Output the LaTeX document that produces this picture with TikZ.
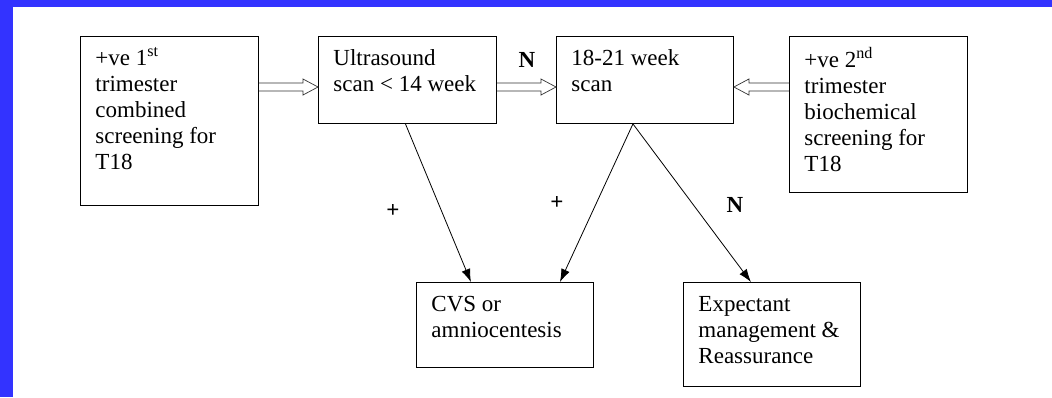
\documentclass[tikz,border=0pt]{standalone}
\usepackage{fontspec}
\setmainfont{Liberation Serif}
\usetikzlibrary{arrows.meta,calc}

\definecolor{frameblue}{RGB}{51,51,255}

% text in a box: fixed size, top left
\newcommand{\boxtext}[3]{\parbox[c][#2][t]{#1}{\raggedright\leftskip=15pt\vspace*{11pt}\strut #3}}

\tikzset{
  box/.style={draw, line width=0.9pt, inner sep=0pt, anchor=north west,
    font=\fontsize{23}{26}\selectfont},
  arr/.style={-{Latex[length=13pt,width=9pt]}, line width=0.8pt},
  lbl/.style={font=\fontsize{23}{26}\selectfont\bfseries, inner sep=0pt},
  hollow/.style={line width=0.7pt, draw=black!80, to path={
      let \p1=(\tikztostart), \p2=(\tikztotarget), \n1={ifthenelse(\x2>\x1,1,-1)} in
      (\x1,\y1+4pt) -- (\x2-\n1*15pt,\y1+4pt) -- (\x2-\n1*15pt,\y1+8pt) -- (\x2,\y1)
      -- (\x2-\n1*15pt,\y1-8pt) -- (\x2-\n1*15pt,\y1-4pt) -- (\x1,\y1-4pt)}}
}

\begin{document}
\begin{tikzpicture}[x=1pt,y=-1pt]

\useasboundingbox (0,0) rectangle (1052,397);
\fill [frameblue] (0,0) rectangle (1052,397);
\fill [white] (13,7) rectangle (1052,397);

% top row
\node [box] (first) at (80,36) {\boxtext{178pt}{169pt}{+ve 1\textsuperscript{st}\\ trimester\\ combined\\ screening for\\ T18}};
\node [box] (early) at (318,36) {\boxtext{178pt}{87pt}{Ultrasound\\ scan < 14 week}};
\node [box] (late) at (556,36) {\boxtext{177pt}{87pt}{18-21 week\\ scan}};
\node [box] (second) at (789,36) {\boxtext{178pt}{156pt}{+ve 2\textsuperscript{nd}\\ trimester\\ biochemical\\ screening for\\ T18}};

% bottom row
\node [box] (cvs) at (416,282) {\boxtext{177pt}{85pt}{CVS or\\ amniocentesis}};
\node [box] (expect) at (683,282) {\boxtext{177pt}{104pt}{Expectant\\ management \&\\ Reassurance}};

\coordinate (lvl) at (0,87);
\draw [hollow] (first.east |- lvl) to (early.west |- lvl);
\draw [hollow] (early.east |- lvl) to (late.west |- lvl);
\draw [hollow] (second.west |- lvl) to (late.east |- lvl);

\draw [arr] ([xshift=-2pt]early.south) -- ([xshift=-34pt]cvs.north);
\draw [arr] ([xshift=-12pt]late.south) -- ([xshift=55pt]cvs.north);
\draw [arr] ([xshift=-12pt]late.south) -- ([xshift=-21pt]expect.north);

\node [lbl] (n1) at (527,60) {N};
\node [lbl] (p1) at (393,211) {+};
\node [lbl] (p2) at (557,203) {+};
\node [lbl] (n2) at (735,205) {N};

\end{tikzpicture}
\end{document}
